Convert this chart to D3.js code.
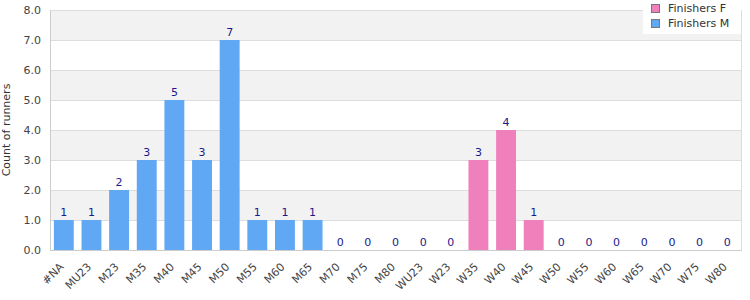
<!DOCTYPE html>
<html><head><meta charset="utf-8">
<script src="https://cdn.jsdelivr.net/npm/d3@7"></script>
<style>body{margin:0;background:#fff}svg{display:block;font-family:"DejaVu Sans",Verdana,sans-serif}</style>
</head><body><svg id="c" width="750" height="300"></svg>
<script>
const categories = ["#NA","MU23","M23","M35","M40","M45","M50","M55","M60","M65","M70","M75","M80","WU23","W23","W35","W40","W45","W50","W55","W60","W65","W70","W75","W80"];
const finishersM = [1,1,2,3,5,3,7,1,1,1,0,0,0,0,0,0,0,0,0,0,0,0,0,0,0];
const finishersF = [0,0,0,0,0,0,0,0,0,0,0,0,0,0,0,3,4,1,0,0,0,0,0,0,0];
const yTicks = [0,1,2,3,4,5,6,7,8];
const seriesNames = ["Finishers F","Finishers M"];
const colors = {"Finishers F":"#f080bb","Finishers M":"#60a8f4"};

const svg = d3.select("#c");
const m = {l:50, r:741, t:10, b:250};
const x = d3.scaleBand().domain(categories).range([m.l, m.r]).paddingInner(0.28).paddingOuter(0.14);
const y = d3.scaleLinear().domain([0,8]).range([m.b, m.t]);

// alternating bands
for (let i=0;i<8;i++){
  svg.append("rect").attr("x",m.l).attr("width",m.r-m.l)
    .attr("y",y(i+1)).attr("height",y(i)-y(i+1))
    .attr("fill", i%2===1 ? "#f2f2f2" : "#ffffff");
}
// gridlines
svg.append("g").selectAll("line").data(yTicks).join("line")
  .attr("x1",m.l).attr("x2",m.r).attr("y1",d=>y(d)+0.5).attr("y2",d=>y(d)+0.5)
  .attr("stroke","#dddddd");
svg.append("line").attr("x1",m.r+0.5).attr("x2",m.r+0.5).attr("y1",m.t).attr("y2",m.b).attr("stroke","#dddddd");
svg.append("line").attr("x1",m.l+0.5).attr("x2",m.l+0.5).attr("y1",m.t).attr("y2",m.b+1).attr("stroke","#cccccc");
svg.append("line").attr("x1",m.l).attr("x2",m.r+1).attr("y1",m.b+0.5).attr("y2",m.b+0.5).attr("stroke","#cccccc");

// y axis labels
const yAxis = d3.axisLeft(y).tickValues(yTicks).tickFormat(d3.format(".1f")).tickSize(0).tickPadding(9);
const ga = svg.append("g").attr("transform",`translate(${m.l},0)`).call(yAxis);
ga.select(".domain").remove();
ga.selectAll("text").attr("font-size",11).attr("fill","#444").attr("font-family","DejaVu Sans, Verdana, sans-serif");

svg.append("text").attr("transform",`translate(10,${(m.t+m.b)/2}) rotate(-90)`)
  .attr("text-anchor","middle").attr("font-size",11).attr("fill","#333").text("Count of runners");

// x axis labels
const xAxis = d3.axisBottom(x).tickSize(0).tickPadding(0);
const gx = svg.append("g").attr("transform",`translate(0,${m.b})`).call(xAxis);
gx.select(".domain").remove();
gx.selectAll("text").attr("font-size",11).attr("fill","#444").attr("font-family","DejaVu Sans, Verdana, sans-serif")
  .attr("text-anchor","end").attr("dy",null).attr("y",null)
  .attr("transform","translate(-2,15) rotate(-45)").attr("dominant-baseline","central");

// bars
const total = categories.map((c,i)=>({c, M:finishersM[i], F:finishersF[i]}));
const barData = [];
total.forEach(d=>{
  if (d.M>0) barData.push({c:d.c,v:d.M,s:"Finishers M"});
  if (d.F>0) barData.push({c:d.c,v:d.F,s:"Finishers F"});
});
svg.append("g").selectAll("rect").data(barData).join("rect")
  .attr("x",d=>x(d.c)).attr("width",x.bandwidth())
  .attr("y",d=>y(d.v)).attr("height",d=>y(0)-y(d.v))
  .attr("fill",d=>colors[d.s]);

// value labels
svg.append("g").selectAll("text").data(total).join("text")
  .attr("x",d=>x(d.c)+x.bandwidth()/2).attr("y",d=>y(d.M+d.F)-4)
  .attr("text-anchor","middle").attr("font-size",11).attr("fill","#1a1a8c")
  .text(d=>d.M+d.F);

// legend
const lg = svg.append("g");
lg.append("rect").attr("x",643).attr("y",0).attr("width",98).attr("height",34).attr("fill","#fff");
seriesNames.forEach((s,i)=>{
  lg.append("rect").attr("x",651.5).attr("y",4.5+i*15).attr("width",8).attr("height",8)
    .attr("fill",colors[s]).attr("stroke","#777");
  lg.append("text").attr("x",668).attr("y",12+i*15).attr("font-size",11).attr("fill","#333").text(s);
});
</script></body></html>
